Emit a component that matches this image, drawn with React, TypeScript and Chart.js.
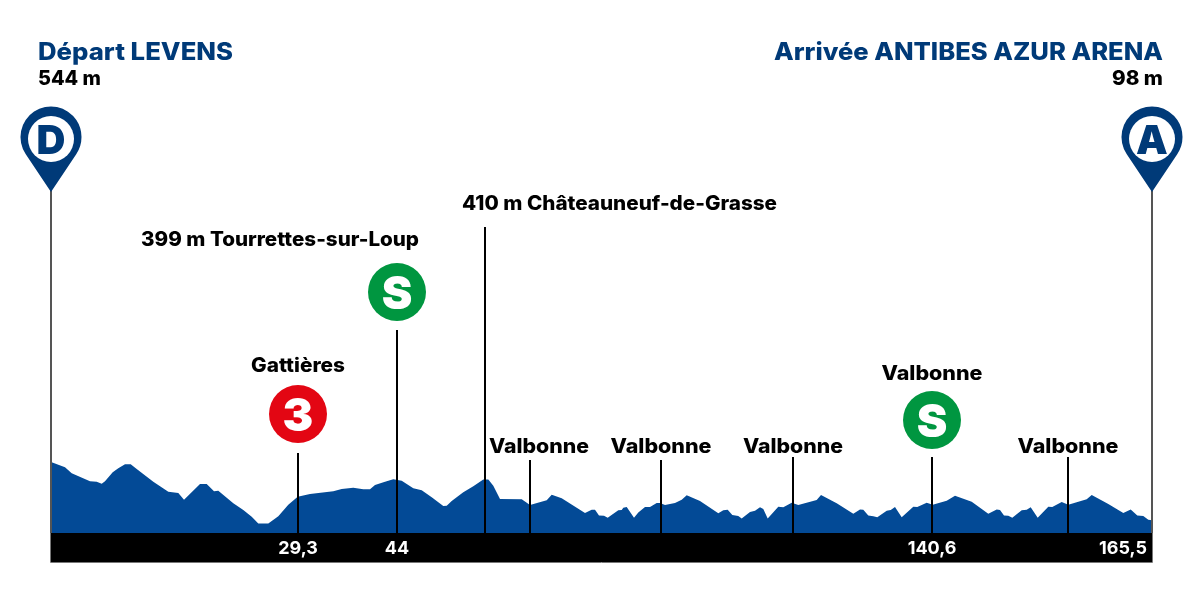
import React, { useEffect, useRef } from "react";
import { Chart, registerables } from "chart.js";

Chart.register(...registerables);

// Drawn position along the profile (the printed km are not evenly spaced) and altitude in metres.
const profilePosition = [
  0, 14, 20.7, 39, 45.7, 50.7, 54, 61.7, 67.3, 74, 79.7, 85.7, 102.3, 117.3, 127.3, 133, 149, 155.7, 163, 167.3,
  182.3, 192.3, 200.7, 207.3, 217.3, 227.3, 237.3, 246.7, 259, 282.3, 290.7, 302.3, 312.3, 319, 324, 334, 342.3, 350.7,
  362.3, 370.7, 380.7, 392.3, 395.7, 400.7, 412.3, 422.3, 432.3, 437.3, 442.3, 449, 470.7, 479, 495.7, 500.7, 510.7,
  534, 540.7, 544, 548, 553, 556.7, 567.3, 570.7, 572.3, 575.7, 583, 587.3, 594, 599, 605.7, 609, 614, 624, 630.7, 635.7,
  649, 667.3, 672.3, 676.7, 681.3, 687.3, 690.7, 699, 704, 709, 712.3, 716.7, 727.3, 732.3, 740.7, 747.3, 765.7, 770,
  785.7, 802.3, 809, 812.3, 817.3, 822.3, 826.3, 835.7, 839.7, 844, 850.7, 862.3, 866.3, 875.7, 881.7, 895.7, 904, 920.7,
  937.3, 945.7, 949, 953, 957.3, 961.3, 970.7, 975.7, 979.7, 986.7, 997.3, 1001.3, 1010.7, 1017.3, 1035.7, 1040.7, 1057.3,
  1072.3, 1079.7, 1086.3, 1092.3, 1097.3, 1101,
];
const altitude = [
  544, 503, 457, 396, 393, 378, 396, 465, 496, 526, 526, 490, 393, 317, 307, 255, 375, 375, 319, 324,
  227, 176, 125, 72, 72, 128, 217, 278, 299, 319, 337, 347, 335, 335, 368, 393, 412, 401,
  342, 327, 273, 207, 209, 245, 312, 358, 410, 409, 363, 261, 258, 215, 250, 294, 266,
  153, 179, 179, 135, 133, 117, 174, 176, 194, 199, 117, 158, 199, 199, 230, 230, 215, 230, 255, 289,
  245, 151, 174, 179, 138, 130, 112, 161, 171, 197, 184, 112, 202, 197, 232, 215, 253, 291,
  227, 148, 181, 179, 135, 128, 120, 171, 176, 199, 120, 202, 199, 232, 217, 248, 286, 240,
  148, 181, 176, 135, 133, 117, 174, 179, 197, 117, 202, 199, 238, 217, 258, 291, 222,
  153, 181, 135, 130, 102, 98,
];
const kmLabels = ["29,3", "44", "140,6", "165,5"];
const kmLabelPositions = [247, 346, 881, 1072];
const stemPositions = [0, 247, 346, 434, 479, 610, 742, 881, 1017, 1101];
const stemTops = [2628, 613, 1556, 2344, 559, 559, 582, 582, 582, 2628];

const NAVY = "#003a78";
const BLUE = "#034a96";
const RED = "#e30613";
const GREEN = "#009640";
const FONT = "Inter, 'Noto Sans', sans-serif";

type Txt = [string, number, number, CanvasTextAlign, number, number, string];
const texts: Txt[] = [
  ["Départ LEVENS", 38, 60, "left", 195, 24, NAVY],
  ["544 m", 38, 85, "left", 63, 20, "#000"],
  ["Arrivée ANTIBES AZUR ARENA", 1163, 60, "right", 389, 24, NAVY],
  ["98 m", 1163, 85, "right", 51, 20, "#000"],
  ["410 m Châteauneuf-de-Grasse", 462, 210, "left", 315, 20, "#000"],
  ["399 m Tourrettes-sur-Loup", 141, 246, "left", 278, 20, "#000"],
  ["Gattières", 298, 372, "center", 94, 20, "#000"],
  ["Valbonne", 932, 380, "center", 101, 20, "#000"],
  ["Valbonne", 539, 453, "center", 100, 20, "#000"],
  ["Valbonne", 661, 453, "center", 101, 20, "#000"],
  ["Valbonne", 793, 453, "center", 100, 20, "#000"],
  ["Valbonne", 1068, 453, "center", 101, 20, "#000"],
];
const badges: [string, number, number, string][] = [
  ["3", 247, 414, RED],
  ["S", 346, 292, GREEN],
  ["S", 881, 420, GREEN],
];
const pins: [string, number][] = [
  ["D", 0],
  ["A", 1101],
];

function fitted(ctx: CanvasRenderingContext2D, t: Txt) {
  const [s, x, y, align, w, size, color] = t;
  ctx.save();
  ctx.font = `800 ${size}px ${FONT}`;
  ctx.fillStyle = color;
  ctx.textAlign = align;
  ctx.textBaseline = "alphabetic";
  const k = w / ctx.measureText(s).width;
  ctx.translate(x, y);
  ctx.scale(k, 1);
  ctx.fillText(s, 0, 0);
  ctx.restore();
}

const decorations = {
  id: "decorations",
  afterDatasetsDraw(chart: any) {
    const { ctx, scales } = chart;
    const xs = scales.x;
    ctx.save();
    ctx.strokeStyle = "#777";
    ctx.lineWidth = 1;
    ctx.beginPath();
    ctx.moveTo(50.5, 533);
    ctx.lineTo(50.5, 562.5);
    ctx.lineTo(1152.5, 562.5);
    ctx.lineTo(1152.5, 533);
    ctx.stroke();
    texts.forEach((t) => fitted(ctx, t));
    ctx.textAlign = "center";
    ctx.textBaseline = "alphabetic";
    badges.forEach(([s, pos, cy, color]) => {
      const cx = xs.getPixelForValue(pos);
      ctx.fillStyle = color;
      ctx.beginPath();
      ctx.arc(cx, cy, 29, 0, Math.PI * 2);
      ctx.fill();
      ctx.fillStyle = "#fff";
      ctx.font = `900 46px ${FONT}`;
      ctx.fillText(s, cx, cy + 16.5);
    });
    pins.forEach(([s, pos]) => {
      const cx = xs.getPixelForValue(pos);
      const cy = 137;
      const r = 30.5;
      const tip = 192;
      const a = Math.acos(r / (tip - cy));
      ctx.fillStyle = NAVY;
      ctx.beginPath();
      ctx.arc(cx, cy, r, Math.PI / 2 + a, Math.PI / 2 - a);
      ctx.lineTo(cx, tip);
      ctx.closePath();
      ctx.fill();
      ctx.fillStyle = "#fff";
      ctx.beginPath();
      ctx.arc(cx, 139, 23, 0, Math.PI * 2);
      ctx.fill();
      ctx.fillStyle = NAVY;
      ctx.font = `900 40px ${FONT}`;
      ctx.fillText(s, cx, 153.5);
    });
    ctx.restore();
  },
};

export default function App() {
  const ref = useRef<HTMLCanvasElement>(null);
  useEffect(() => {
    const stems = stemPositions.map((x, i) => ({
      type: "line" as const,
      data: [
        { x, y: 0 },
        { x, y: stemTops[i] },
      ],
      borderColor: i === 0 || i === stemPositions.length - 1 ? "#555" : "#000",
      borderWidth: 2,
      pointRadius: 0,
      fill: false,
      clip: false as any,
    }));
    const chart = new Chart(ref.current!, {
      type: "line",
      data: {
        datasets: [
          {
            data: profilePosition.map((x, i) => ({ x, y: altitude[i] })),
            borderColor: BLUE,
            borderWidth: 0,
            backgroundColor: BLUE,
            pointRadius: 0,
            fill: "origin",
            tension: 0,
            order: 2,
          },
          ...stems.map((s) => ({ ...s, order: 1 })),
        ],
      },
      options: {
        responsive: false,
        animation: false,
        parsing: false,
        layout: { padding: { left: 51, right: 48, top: 0, bottom: 33 } },
        plugins: { legend: { display: false }, tooltip: { enabled: false } },
        scales: {
          x: {
            type: "linear",
            min: 0,
            max: 1101,
            backgroundColor: "#000",
            grid: { display: false, drawTicks: false },
            border: { display: false },
            afterBuildTicks(scale: any) {
              scale.ticks = kmLabelPositions.map((value) => ({ value }));
            },
            afterFit(scale: any) {
              scale.height = 29;
            },
            ticks: {
              autoSkip: false,
              maxRotation: 0,
              padding: 5,
              color: "#fff",
              font: { family: FONT, size: 18, weight: "700" },
              callback: (v: any) => kmLabels[kmLabelPositions.indexOf(Number(v))] ?? "",
            },
          },
          y: { display: false, min: 0, max: 4084 },
        },
      },
      plugins: [decorations],
    } as any);
    return () => chart.destroy();
  }, []);
  return (
    <canvas
      ref={ref}
      width={1200}
      height={595}
      style={{ position: "absolute", left: 0, top: 0, width: 1200, height: 595, display: "block" }}
    />
  );
}
